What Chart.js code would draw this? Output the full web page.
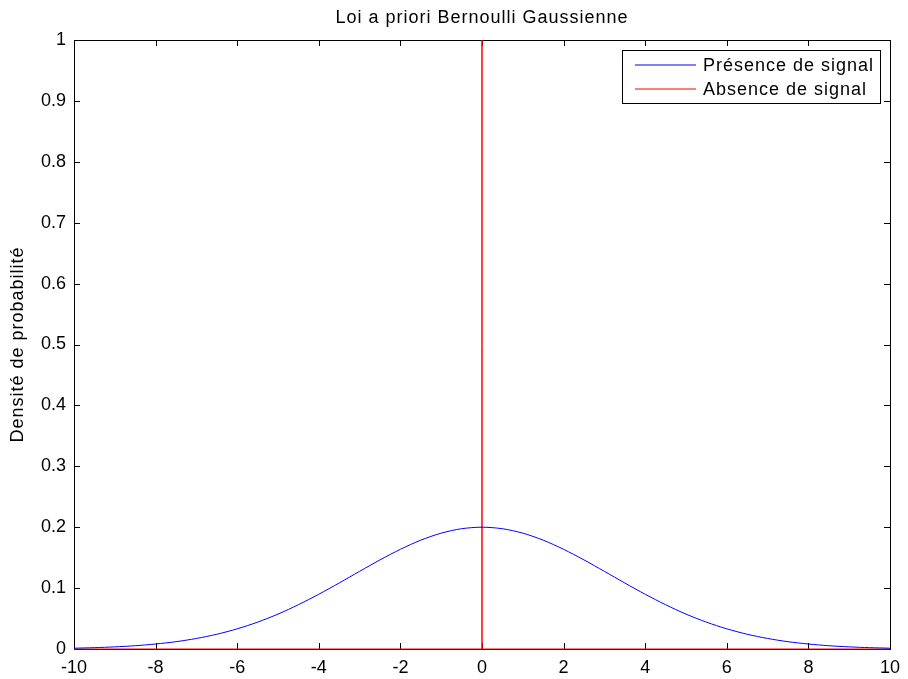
<!DOCTYPE html>
<html>
<head>
<meta charset="utf-8">
<title>Loi a priori Bernoulli Gaussienne</title>
<script src="https://cdn.jsdelivr.net/npm/chart.js@4.4.0/dist/chart.umd.min.js"></script>
<style>
  html, body { margin: 0; padding: 0; background: #fff; }
  #wrap { width: 908px; height: 679px; }
</style>
</head>
<body>
<div id="wrap"><canvas id="chart" width="908" height="679"></canvas></div>
<script>
// Data
const presenceX = [-10, -9.5, -9, -8.5, -8, -7.5, -7, -6.5, -6, -5.5, -5, -4.5, -4, -3.5, -3, -2.5, -2, -1.5, -1, -0.5,
  0, 0.5, 1, 1.5, 2, 2.5, 3, 3.5, 4, 4.5, 5, 5.5, 6, 6.5, 7, 7.5, 8, 8.5, 9, 9.5, 10];
const presenceY = [0.0013, 0.0022, 0.0035, 0.0054, 0.0082, 0.012, 0.0173, 0.0242, 0.0331, 0.0441, 0.0573, 0.0727, 0.0899, 0.1084, 0.1275, 0.1463, 0.1637, 0.1787, 0.1902, 0.1975,
  0.2, 0.1975, 0.1902, 0.1787, 0.1637, 0.1463, 0.1275, 0.1084, 0.0899, 0.0727, 0.0573, 0.0441, 0.0331, 0.0242, 0.0173, 0.012, 0.0082, 0.0054, 0.0035, 0.0022, 0.0013];

const absenceX = [-10, 0, 0, 0, 10];
const absenceY = [0, 0, 1, 0, 0];

const seriesLabels = ["Présence de signal", "Absence de signal"];
const seriesColors = ["#0000ff", "#ff0000"];

const chartTitle = "Loi a priori Bernoulli Gaussienne";
const yAxisTitle = "Densité de probabilité";

const FONT = "'Liberation Sans', Arial, Helvetica, sans-serif";
const TEXT_FONT = "18px " + FONT;
Chart.defaults.font.family = FONT;
Chart.defaults.font.size = 18;
Chart.defaults.color = "#000";

function toPoints(xs, ys) {
  return xs.map((x, i) => ({ x: x, y: ys[i] }));
}

// MATLAB style box with inward ticks on all four sides
const boxAxes = {
  id: "boxAxes",
  beforeDatasetsDraw(chart) {
    const { ctx, chartArea: a, scales } = chart;
    const tick = 6;
    ctx.save();
    ctx.strokeStyle = "#000";
    ctx.lineWidth = 1;
    ctx.strokeRect(Math.round(a.left) + 0.5, Math.round(a.top) + 0.5,
      Math.round(a.right - a.left), Math.round(a.bottom - a.top));
    ctx.beginPath();
    scales.x.ticks.forEach(t => {
      const px = Math.round(scales.x.getPixelForValue(t.value)) + 0.5;
      ctx.moveTo(px, a.bottom); ctx.lineTo(px, a.bottom - tick);
      ctx.moveTo(px, a.top); ctx.lineTo(px, a.top + tick);
    });
    scales.y.ticks.forEach(t => {
      const py = Math.round(scales.y.getPixelForValue(t.value)) + 0.5;
      ctx.moveTo(a.left, py); ctx.lineTo(a.left + tick, py);
      ctx.moveTo(a.right, py); ctx.lineTo(a.right - tick, py);
    });
    ctx.stroke();
    ctx.restore();
  }
};

// Title, y axis title and legend box (slightly spaced text like the original)
const textAndLegend = {
  id: "textAndLegend",
  afterDraw(chart) {
    const { ctx, chartArea: a } = chart;
    ctx.save();
    ctx.font = TEXT_FONT;
    ctx.letterSpacing = "1px";
    ctx.fillStyle = "#000";

    // title
    ctx.textAlign = "center";
    ctx.textBaseline = "alphabetic";
    ctx.fillText(chartTitle, (a.left + a.right) / 2, 23);

    // y axis title
    ctx.save();
    ctx.translate(23, (a.top + a.bottom) / 2);
    ctx.rotate(-Math.PI / 2);
    ctx.fillText(yAxisTitle, 0, 0);
    ctx.restore();

    // legend
    const textW = Math.max(...seriesLabels.map(s => ctx.measureText(s).width));
    const w = Math.round(13 + 61 + 7 + textW + 6);
    const h = 53;
    const right = Math.round(a.right) - 10;
    const top = Math.round(a.top) + 10;
    const left = right - w;
    ctx.fillStyle = "#fff";
    ctx.fillRect(left, top, w, h);
    ctx.strokeStyle = "#000";
    ctx.lineWidth = 1;
    ctx.strokeRect(left + 0.5, top + 0.5, w, h);
    ctx.textAlign = "left";
    ctx.textBaseline = "middle";
    seriesLabels.forEach((label, i) => {
      const y = Math.round(top + 15 + i * 23.5);
      ctx.beginPath();
      ctx.strokeStyle = seriesColors[i];
      ctx.lineWidth = 1.2;
      ctx.moveTo(left + 13, y);
      ctx.lineTo(left + 74, y);
      ctx.stroke();
      ctx.fillStyle = "#000";
      ctx.fillText(label, left + 81, y + 1);
    });
    ctx.restore();
  }
};

new Chart(document.getElementById("chart"), {
  type: "line",
  data: {
    datasets: [
      {
        label: seriesLabels[0],
        data: toPoints(presenceX, presenceY),
        borderColor: seriesColors[0],
        borderWidth: 1,
        pointRadius: 0,
        tension: 0.3,
        fill: false
      },
      {
        label: seriesLabels[1],
        data: toPoints(absenceX, absenceY),
        borderColor: seriesColors[1],
        borderWidth: 1,
        pointRadius: 0,
        tension: 0,
        fill: false,
        clip: 3
      }
    ]
  },
  options: {
    responsive: false,
    animation: false,
    events: [],
    layout: { padding: { left: 0, right: 14, top: 40, bottom: 0 } },
    plugins: {
      legend: { display: false },
      tooltip: { enabled: false },
      title: { display: false }
    },
    scales: {
      x: {
        type: "linear",
        min: -10,
        max: 10,
        grid: { display: false, drawTicks: false },
        border: { display: false },
        ticks: { stepSize: 2, padding: 8, maxRotation: 0, autoSkip: false },
        afterFit(scale) { scale.height = 30; }
      },
      y: {
        type: "linear",
        min: 0,
        max: 1,
        grid: { display: false, drawTicks: false },
        border: { display: false },
        ticks: {
          stepSize: 0.1,
          padding: 8,
          autoSkip: false,
          callback: v => String(Number(v.toFixed(1)))
        },
        afterFit(scale) { scale.width = 74; }
      }
    }
  },
  plugins: [boxAxes, textAndLegend]
});
</script>
</body>
</html>
